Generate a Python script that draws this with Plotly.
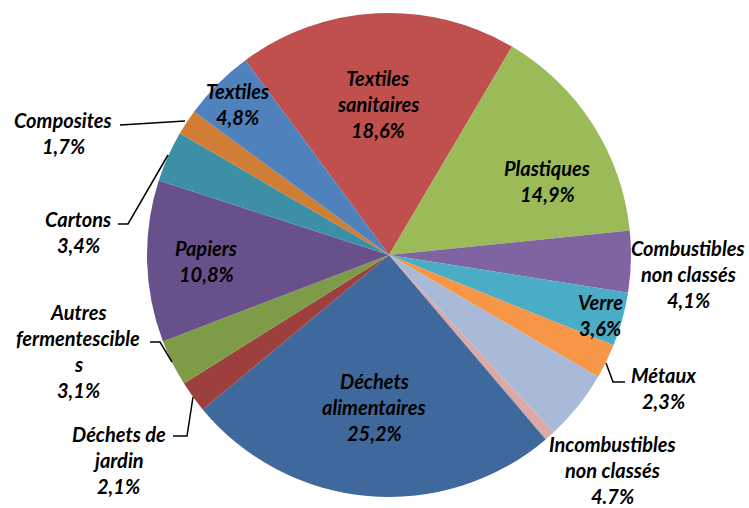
import plotly.graph_objects as go

W, H = 749, 508

# ---- data (clockwise from the top-left edge) ----
categories = ["Textiles sanitaires", "Plastiques", "Combustibles non classés", "Verre",
              "Métaux", "Incombustibles non classés", "Autres", "Déchets alimentaires",
              "Déchets de jardin", "Autres fermentescibles", "Papiers", "Cartons",
              "Composites", "Textiles"]
values = [18.6, 14.9, 4.1, 3.6, 2.3, 4.7, 0.7, 25.2, 2.1, 3.1, 10.8, 3.4, 1.7, 4.8]
label_lines = [["Textiles", "sanitaires"], ["Plastiques"], ["Combustibles", "non classés"],
               ["Verre"], ["Métaux"], ["Incombustibles", "non classés"], [],
               ["Déchets", "alimentaires"], ["Déchets de", "jardin"],
               ["Autres", "fermentescible", "s"], ["Papiers"], ["Cartons"],
               ["Composites"], ["Textiles"]]
pct_labels = ["18,6%", "14,9%", "4,1%", "3,6%", "2,3%", "4.7%", "", "25,2%", "2,1%",
              "3,1%", "10,8%", "3,4%", "1,7%", "4,8%"]

# ---- styles / positions ----
colors = ["#C0504D", "#9BBB59", "#8064A2", "#4BACC6", "#F79646", "#A9B9D8", "#DBA9A8",
          "#3F689C", "#9D403D", "#7E9B48", "#68508A", "#3C8FA5", "#D07E36", "#4F81BD"]
# label block centres in pixels
label_pos = [(378, 104), (547, 181), (688, 274), (600, 315), (663, 388), (612, 470), None,
             (374, 407), (119, 460), (78, 351), (206, 261), (78, 232), (63, 133), (237, 104)]
leaders = [
    [(606, 363), (613, 382), (625, 382)],   # Métaux
    [(193, 397), (187, 436), (173, 436)],   # Déchets de jardin
    [(150, 342), (160, 342), (172, 362)],   # Autres fermentescibles
    [(118, 224), (128, 224), (168, 155)],   # Cartons
    [(120, 125), (185, 121)],               # Composites
]
LINE_H = 26
FONT = "Lato, 'Open Sans', sans-serif"
FONT_SIZE = 20

cx, cy, r = 389, 255, 242

fig = go.Figure(go.Pie(
    labels=categories, values=values, sort=False, direction="clockwise",
    rotation=-36.4, textinfo="none", hoverinfo="label+percent",
    marker=dict(colors=colors, line=dict(width=0)),
    domain=dict(x=[(cx - r) / W, (cx + r) / W], y=[1 - (cy + r) / H, 1 - (cy - r) / H]),
    showlegend=False,
))

annotations = []
for lines, pct, pos in zip(label_lines, pct_labels, label_pos):
    if pos is None:
        continue
    all_lines = lines + [pct]
    n = len(all_lines)
    for i, t in enumerate(all_lines):
        y = pos[1] + (i - (n - 1) / 2) * LINE_H
        annotations.append(dict(
            x=pos[0] / W, y=1 - y / H, xref="paper", yref="paper",
            text="<b><i>" + t + "</i></b>", showarrow=False,
            font=dict(family=FONT, size=FONT_SIZE, color="black", weight=900),
            xanchor="center", yanchor="middle"))

shapes = []
for pts in leaders:
    path = "M " + " L ".join(f"{x / W},{1 - y / H}" for x, y in pts)
    shapes.append(dict(type="path", path=path, xref="paper", yref="paper",
                       line=dict(color="black", width=1.5)))

fig.update_layout(
    width=W, height=H, margin=dict(l=0, r=0, t=0, b=0),
    paper_bgcolor="white", plot_bgcolor="white",
    annotations=annotations, shapes=shapes,
)

fig.write_html("out.html", config={"displayModeBar": False},
               post_script="document.body.style.margin='0';document.body.style.overflow='hidden';")
